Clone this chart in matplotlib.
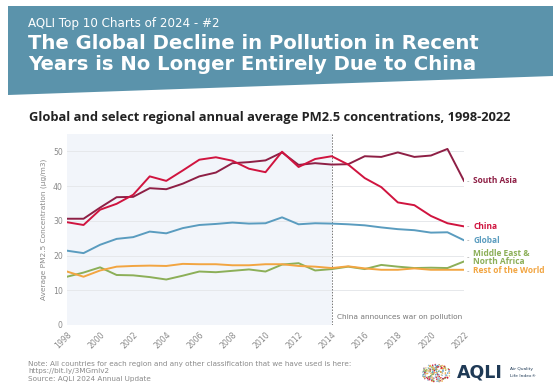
import matplotlib
matplotlib.use("Agg")
import matplotlib.pyplot as plt
from matplotlib.patches import Polygon
import numpy as np

years = list(range(1998, 2023))
south_asia = [30.6, 30.6, 33.8, 36.8, 36.9, 39.4, 39.1, 40.7, 42.8, 43.9, 46.6, 46.9, 47.4, 49.7, 46.1, 46.6,
              46.2, 46.3, 48.6, 48.4, 49.7, 48.4, 48.8, 50.7, 41.5]
china = [29.6, 28.8, 33.2, 34.9, 37.5, 42.8, 41.5, 44.5, 47.6, 48.3, 47.3, 45.0, 44.0, 49.9, 45.5, 47.8,
         48.6, 46.2, 42.3, 39.7, 35.3, 34.5, 31.4, 29.3, 28.4]
global_ = [21.4, 20.7, 23.1, 24.8, 25.3, 26.9, 26.4, 27.9, 28.8, 29.1, 29.5, 29.2, 29.3, 31.0, 29.0, 29.3,
           29.2, 29.0, 28.7, 28.1, 27.6, 27.3, 26.6, 26.7, 24.4]
mena = [13.9, 15.1, 16.6, 14.4, 14.3, 13.8, 13.1, 14.2, 15.4, 15.2, 15.6, 16.0, 15.4, 17.4, 17.8, 15.7,
        16.1, 16.8, 16.1, 17.3, 16.8, 16.4, 16.5, 16.4, 18.3]
rest = [15.4, 13.9, 15.7, 16.8, 17.0, 17.1, 17.0, 17.6, 17.5, 17.5, 17.2, 17.2, 17.5, 17.5, 17.0, 16.8,
        16.4, 16.9, 16.3, 15.9, 15.9, 16.3, 15.9, 15.9, 15.9]

series_names = ["South Asia", "China", "Global", "Middle East &\nNorth Africa", "Rest of the World"]
label_values = [41.5, 28.4, 24.4, 19.4, 15.6]
xtick_years = list(range(1998, 2023, 2))
yticks = [0, 10, 20, 30, 40, 50]
event_year = 2014
event_text = "China announces war on pollution"

c_sa = "#8E1F45"
c_cn = "#D0143F"
c_gl = "#5A9CBF"
c_me = "#8CAF58"
c_rw = "#F2A541"
colors = [c_sa, c_cn, c_gl, c_me, c_rw]
series = [south_asia, china, global_, mena, rest]

W, H = 553, 386
fig = plt.figure(figsize=(W / 100, H / 100), dpi=100)
fig.patch.set_facecolor("white")

# banner
bg = fig.add_axes([0, 0, 1, 1], zorder=0)
bg.set_xlim(0, W)
bg.set_ylim(H, 0)
bg.axis("off")
bg.add_patch(Polygon([[8, 6], [W, 6], [W, 76], [8, 95]], closed=True, facecolor="#5B93AB", edgecolor="none"))
bg.text(28, 24, "AQLI Top 10 Charts of 2024 - #2", color="white", fontsize=8.6, va="center", ha="left",
        family="DejaVu Sans")
bg.text(28, 43.5, "The Global Decline in Pollution in Recent", color="white", fontsize=14.1, fontweight="bold",
        va="center", ha="left", family="DejaVu Sans")
bg.text(28, 64, "Years is No Longer Entirely Due to China", color="white", fontsize=14.1, fontweight="bold",
        va="center", ha="left", family="DejaVu Sans")
bg.text(29, 117, "Global and select regional annual average PM2.5 concentrations, 1998-2022",
        color="#222222", fontsize=9.3, fontweight="bold", va="center", ha="left", family="Open Sans")

# footer
foot_c = "#8A8A8A"
bg.text(28, 364, "Note: All countries for each region and any other classification that we have used is here:",
        color=foot_c, fontsize=5.2, va="center", ha="left")
bg.text(28, 371.5, "https://bit.ly/3MGmIv2", color=foot_c, fontsize=5.2, va="center", ha="left")
bg.text(28, 379, "Source: AQLI 2024 Annual Update", color=foot_c, fontsize=5.2, va="center", ha="left")

# logo
rng = np.random.default_rng(3)
ang = rng.uniform(0, 2 * np.pi, 200)
rad = np.sqrt(rng.uniform(0, 1, 200)) * 9
lx = 436 + rad * np.cos(ang) * 1.6
ly = 373 + rad * np.sin(ang)
logo_cols = ["#F2A541", "#D0143F", "#5A9CBF", "#8CAF58", "#E8C07A", "#9DC3D8"]
bg.scatter(lx, ly, s=1.2, c=[logo_cols[i % len(logo_cols)] for i in range(200)], linewidths=0)
bg.text(457, 373, "AQLI", color="#1F3A56", fontsize=12.5, fontweight="bold", va="center", ha="left")
bg.text(510, 369, "Air Quality", color="#1F3A56", fontsize=3.2, va="center", ha="left")
bg.text(510, 376, "Life Index\u00ae", color="#1F3A56", fontsize=3.2, va="center", ha="left")

# main axes
ax = fig.add_axes([67 / W, 1 - 325 / H, (464 - 67) / W, (325 - 134) / H], zorder=1)
ax.patch.set_alpha(0)
ax.set_xlim(1998, 2022)
ax.set_ylim(0, 55)
ax.axvspan(1998, event_year, color="#F2F5FA", zorder=0, lw=0)
for yv in yticks:
    ax.axhline(yv, color="#E6E8EB", lw=0.7, zorder=1)
ax.axvline(event_year, color="#777777", lw=0.7, ls=(0, (1.5, 1.5)), zorder=2)
ax.text(event_year + 0.3, 1.3, event_text, color="#777777", fontsize=5.3, va="bottom", ha="left")

for vals, col in zip(series, colors):
    ax.plot(years, vals, color=col, lw=1.4, zorder=3)

for name, val, col in zip(series_names, label_values, colors):
    ax.annotate(name, xy=(1, val), xycoords=("axes fraction", "data"), xytext=(6.5, 0),
                textcoords="offset points", color=col, fontsize=6.0, fontweight="bold",
                family="Open Sans", va="center", ha="left", linespacing=0.85, annotation_clip=False)
    ax.annotate("-", xy=(1, val), xycoords=("axes fraction", "data"), xytext=(2, 0),
                textcoords="offset points", color="#999999", fontsize=5, va="center", ha="left",
                annotation_clip=False)

for s in ax.spines.values():
    s.set_visible(False)
ax.set_xticks(xtick_years)
ax.set_xticklabels([str(y) for y in xtick_years], rotation=45, ha="right", rotation_mode="anchor")
ax.set_yticks(yticks)
ax.tick_params(axis="both", length=0, labelsize=5.6, labelcolor="#8A8A8A", pad=3)
ax.tick_params(axis="x", pad=4)
ax.set_ylabel("Average PM2.5 Concentration (\u00b5g/m3)", fontsize=5.3, color="#8A8A8A", labelpad=4)

fig.savefig("out.png", dpi=100, facecolor="white")
